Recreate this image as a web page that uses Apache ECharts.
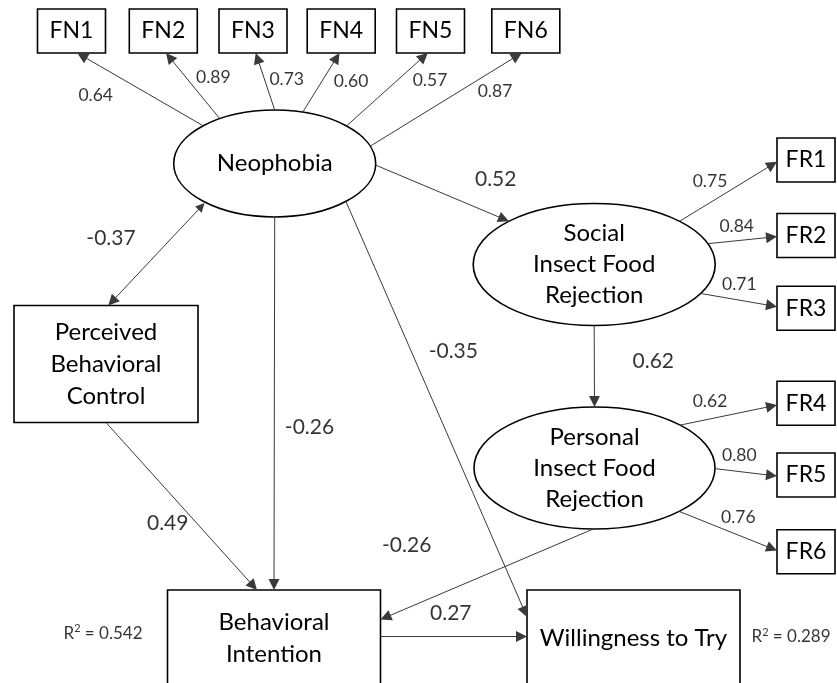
<!DOCTYPE html>
<html>
<head>
<meta charset="utf-8">
<script src="https://cdn.jsdelivr.net/npm/echarts@6/dist/echarts.min.js"></script>
<style>
  html, body { margin: 0; background: #fff; }
  #chart { width: 837px; height: 683px; }
</style>
</head>
<body>
<div id="chart"></div>
<script>
// ---- model values ----
const latentIds = ['NEO', 'SIFR', 'PIFR'];
const latentLabels = ['Neophobia', 'Social\nInsect Food\nRejection', 'Personal\nInsect Food\nRejection'];
const observedIds = ['PBC', 'BI', 'WTT'];
const observedLabels = ['Perceived\nBehavioral\nControl', 'Behavioral\nIntention', 'Willingness to Try'];
const indicatorIds = ['FN1', 'FN2', 'FN3', 'FN4', 'FN5', 'FN6', 'FR1', 'FR2', 'FR3', 'FR4', 'FR5', 'FR6'];

const loadingFrom = ['NEO', 'NEO', 'NEO', 'NEO', 'NEO', 'NEO', 'SIFR', 'SIFR', 'SIFR', 'PIFR', 'PIFR', 'PIFR'];
const loadingValues = [0.64, 0.89, 0.73, 0.60, 0.57, 0.87, 0.75, 0.84, 0.71, 0.62, 0.80, 0.76];

const pathFrom = ['NEO', 'NEO', 'NEO', 'PBC', 'SIFR', 'PIFR', 'BI'];
const pathTo = ['SIFR', 'BI', 'WTT', 'BI', 'PIFR', 'BI', 'WTT'];
const pathValues = [0.52, -0.26, -0.35, 0.49, 0.62, -0.26, 0.27];

const covFrom = ['NEO'];
const covTo = ['PBC'];
const covValues = [-0.37];

const r2Targets = ['BI', 'WTT'];
const r2Values = [0.542, 0.289];

// ---- layout (pixel space of the hidden axes) ----
// [cx, cy, w, h]
const nodeBox = {
  NEO: [274.7, 163.5, 202, 107],
  SIFR: [594.2, 264.5, 242, 122],
  PIFR: [594.5, 468, 241, 122],
  PBC: [106, 364, 184, 117],
  BI: [274, 640, 213, 100],
  WTT: [633.5, 640, 213, 100],
  FN1: [71.5, 31, 68, 44], FN2: [163.3, 31, 68, 44], FN3: [253, 31, 68, 44],
  FN4: [341.2, 31, 68, 44], FN5: [430.5, 31, 68, 44], FN6: [525.8, 31, 68, 44],
  FR1: [806, 160, 58, 44], FR2: [806, 235.5, 58, 44], FR3: [806, 308.2, 58, 44],
  FR4: [806, 403.3, 58, 44], FR5: [806, 475, 58, 44], FR6: [806, 551.7, 58, 44]
};
// where each arrow leaves / meets a node, relative to its half size
const anchors = {
  'NEO>FN1': [-0.723, -0.72, 0.17, 1], 'NEO>FN2': [-0.561, -0.864, 0.08, 1],
  'NEO>FN3': [0, -1, 0.08, 1], 'NEO>FN4': [0.283, -0.98, -0.05, 1],
  'NEO>FN5': [0.729, -0.72, -0.08, 1], 'NEO>FN6': [0.973, -0.333, -0.12, 1],
  'SIFR>FR1': [0.724, -0.727, -1, 0.08], 'SIFR>FR2': [0.953, -0.346, -1, 0.05],
  'SIFR>FR3': [0.89, 0.48, -1, -0.07], 'PIFR>FR4': [0.724, -0.716, -1, 0.08],
  'PIFR>FR5': [1, 0.01, -1, 0.05], 'PIFR>FR6': [0.718, 0.727, -1, -0.05],
  'NEO>SIFR': [1, 0.03, -0.696, -0.7], 'NEO>BI': [0, 1, 0, -1],
  'NEO>WTT': [0.729, 0.733, -1, -0.46], 'PBC>BI': [0, 1, -0.16, -1],
  'SIFR>PIFR': [0, 1, 0, -1], 'PIFR>BI': [-0.01, 1, 1, -0.41],
  'BI>WTT': [1, -0.07, -1, -0.07], 'NEO<>PBC': [-0.717, 0.757, 0.025, -1]
};
const labelAt = {
  'NEO>FN1': [95.7, 95], 'NEO>FN2': [213.3, 77.3], 'NEO>FN3': [286.7, 79],
  'NEO>FN4': [351, 81], 'NEO>FN5': [430, 80.7], 'NEO>FN6': [495, 91.7],
  'SIFR>FR1': [710, 181.7], 'SIFR>FR2': [736.7, 226], 'SIFR>FR3': [739.3, 284.3],
  'PIFR>FR4': [710, 401.7], 'PIFR>FR5': [739.3, 455], 'PIFR>FR6': [738.3, 517.3],
  'NEO>SIFR': [495.7, 179], 'NEO>BI': [309.5, 427.3], 'NEO>WTT': [453.3, 351.7],
  'PBC>BI': [167.7, 523.3], 'SIFR>PIFR': [653.3, 361.7], 'PIFR>BI': [406.7, 545],
  'BI>WTT': [450.8, 613.3], 'NEO<>PBC': [111, 238.3],
  'R2:BI': [103, 633.3], 'R2:WTT': [791, 636.7]
};

const FONT = 'Lato, "Open Sans", sans-serif';
const ARROW = [9, 11];

const isEllipse = id => latentIds.includes(id);

function anchorPoint(id, ux, uy) {
  const [cx, cy, w, h] = nodeBox[id];
  if (isEllipse(id)) {
    const n = Math.hypot(ux, uy) || 1;
    ux /= n; uy /= n;
  }
  return [cx + ux * w / 2, cy + uy * h / 2];
}

function edgeCoords(key, from, to, twoHeads) {
  const a = anchors[key];
  let p1 = anchorPoint(from, a[0], a[1]);
  let p2 = anchorPoint(to, a[2], a[3]);
  // pull the ends back so the arrow tips sit on the outline
  const dx = p2[0] - p1[0], dy = p2[1] - p1[1];
  const len = Math.hypot(dx, dy);
  const k = ARROW[1] / 2 / len;
  p2 = [p2[0] - dx * k, p2[1] - dy * k];
  if (twoHeads) p1 = [p1[0] + dx * k, p1[1] + dy * k];
  return [p1, p2];
}

const fmt = v => v.toFixed(2);

// nodes
const nodeIds = latentIds.concat(observedIds, indicatorIds);
const nodeText = latentLabels.concat(observedLabels, indicatorIds);
const nodeData = nodeIds.map(id => nodeBox[id]);

// edges
const oneHead = [];
const twoHead = [];
const edgeLabels = [];

indicatorIds.forEach((ind, i) => {
  const key = loadingFrom[i] + '>' + ind;
  oneHead.push({ coords: edgeCoords(key, loadingFrom[i], ind, false) });
  edgeLabels.push({ value: labelAt[key], text: fmt(loadingValues[i]), small: true });
});
pathFrom.forEach((f, i) => {
  const key = f + '>' + pathTo[i];
  oneHead.push({ coords: edgeCoords(key, f, pathTo[i], false) });
  edgeLabels.push({ value: labelAt[key], text: fmt(pathValues[i]), small: false });
});
covFrom.forEach((f, i) => {
  const key = f + '<>' + covTo[i];
  twoHead.push({ coords: edgeCoords(key, f, covTo[i], true) });
  edgeLabels.push({ value: labelAt[key], text: fmt(covValues[i]), small: false });
});

const r2Data = r2Targets.map((t, i) => ({
  value: labelAt['R2:' + t],
  label: { formatter: '{a|R}{s|2}{a| = ' + r2Values[i].toFixed(3) + '}' }
}));

const chart = echarts.init(document.getElementById('chart'));

const lineBase = {
  type: 'lines',
  coordinateSystem: 'cartesian2d',
  symbolSize: ARROW,
  lineStyle: { color: '#3a3a3a', width: 1, opacity: 1, curveness: 0 },
  itemStyle: { color: '#000' },
  z: 3,
  silent: true
};

chart.setOption({
  animation: false,
  backgroundColor: '#fff',
  grid: { left: 0, right: 0, top: 0, bottom: 0 },
  xAxis: { type: 'value', min: 0, max: 837, show: false },
  yAxis: { type: 'value', min: 0, max: 683, inverse: true, show: false },
  series: [
    {
      type: 'custom',
      coordinateSystem: 'cartesian2d',
      z: 2,
      silent: true,
      data: nodeData,
      renderItem: function (params, api) {
        const id = nodeIds[params.dataIndex];
        const c = api.coord([api.value(0), api.value(1)]);
        const s = api.size([api.value(2), api.value(3)]);
        const small = indicatorIds.includes(id);
        const outline = isEllipse(id)
          ? { type: 'ellipse', shape: { cx: c[0], cy: c[1], rx: s[0] / 2, ry: s[1] / 2 } }
          : { type: 'rect', shape: { x: c[0] - s[0] / 2, y: c[1] - s[1] / 2, width: s[0], height: s[1] } };
        outline.style = { fill: '#fff', stroke: '#000', lineWidth: 1.6 };
        let ty = c[1];
        if (id === 'BI' || id === 'WTT') ty = c[1] - 2;
        return {
          type: 'group',
          children: [
            outline,
            {
              type: 'text',
              style: {
                text: nodeText[params.dataIndex],
                x: c[0], y: ty,
                align: 'center', verticalAlign: 'middle',
                font: (small ? '23px ' : '24px ') + FONT,
                lineHeight: isEllipse(id) ? 31 : 32,
                fill: '#000'
              }
            }
          ]
        };
      }
    },
    Object.assign({}, lineBase, { symbol: ['none', 'triangle'], data: oneHead }),
    Object.assign({}, lineBase, { symbol: ['triangle', 'triangle'], data: twoHead }),
    {
      type: 'scatter',
      symbolSize: 1,
      itemStyle: { color: 'rgba(0,0,0,0)' },
      z: 4,
      silent: true,
      data: edgeLabels.map(e => ({
        value: e.value,
        label: { formatter: e.text, fontSize: e.small ? 17.5 : 21 }
      })),
      label: {
        show: true, position: 'inside', color: '#000', fontFamily: FONT
      }
    },
    {
      type: 'scatter',
      symbolSize: 1,
      itemStyle: { color: 'rgba(0,0,0,0)' },
      z: 4,
      silent: true,
      data: r2Data,
      label: {
        show: true, position: 'inside', color: '#000', fontFamily: FONT,
        rich: {
          a: { fontSize: 17, fontFamily: FONT, color: '#000', lineHeight: 20 },
          s: { fontSize: 11, fontFamily: FONT, color: '#000', verticalAlign: 'top', lineHeight: 12 }
        }
      }
    }
  ]
});

window.addEventListener('resize', () => chart.resize());
</script>
</body>
</html>
